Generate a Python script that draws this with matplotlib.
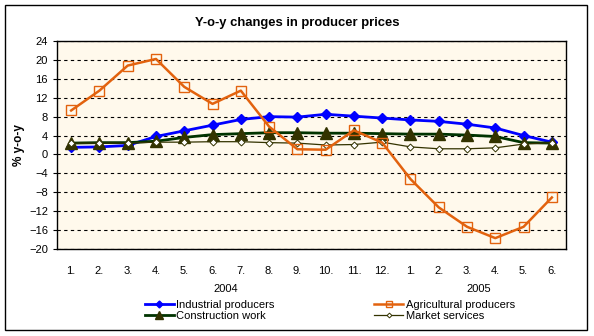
import matplotlib.pyplot as plt
from matplotlib.patches import Rectangle

# months (Jan 2004 .. Jun 2005)
months = ['1.', '2.', '3.', '4.', '5.', '6.', '7.', '8.', '9.', '10.', '11.', '12.',
          '1.', '2.', '3.', '4.', '5.', '6.']
industrial = [1.5, 1.6, 1.9, 3.8, 5.0, 6.2, 7.4, 8.0, 7.9, 8.5, 8.1, 7.7,
              7.3, 7.0, 6.4, 5.6, 4.0, 2.6]
agricultural = [9.3, 13.5, 18.8, 20.2, 14.3, 10.7, 13.5, 5.9, 1.1, 1.0, 5.1, 2.5,
                -5.2, -11.2, -15.3, -17.7, -15.3, -9.1]
construction = [2.4, 2.5, 2.5, 2.8, 3.6, 4.2, 4.4, 4.6, 4.6, 4.5, 4.5, 4.4,
                4.3, 4.3, 4.1, 3.8, 2.5, 2.4]
market = [2.4, 2.4, 2.4, 2.6, 2.6, 2.7, 2.7, 2.5, 2.4, 2.0, 2.1, 2.6,
          1.6, 1.2, 1.2, 1.4, 2.2, 2.5]
yticks = list(range(-20, 25, 4))

plt.rcParams['font.family'] = ['Liberation Sans', 'DejaVu Sans']

fig = plt.figure(figsize=(5.94, 3.36), dpi=100)
W, H = 594, 336

# outer chart frame
fig.patches.append(Rectangle((5 / W, 1 - 330 / H), 582 / W, 325 / H, transform=fig.transFigure,
                             fill=False, edgecolor='black', linewidth=1))

ax = fig.add_axes([57 / W, 1 - 249 / H, 509 / W, 208 / H])
ax.set_facecolor('#FFF9EC')
x = list(range(len(months)))

l_ind, = ax.plot(x, industrial, color='#0000FF', linewidth=2, marker='D', markersize=5,
                 markerfacecolor='#0000FF', markeredgecolor='#0000FF', zorder=3)
l_agr, = ax.plot(x, agricultural, color='#E2620E', linewidth=1.8, marker='s', markersize=7,
                 markerfacecolor='none', markeredgecolor='#E2620E', markeredgewidth=1, zorder=4)
l_con, = ax.plot(x, construction, color='#003300', linewidth=2, marker='^', markersize=9,
                 markerfacecolor='#333300', markeredgecolor='#333300', zorder=3)
l_mkt, = ax.plot(x, market, color='#333300', linewidth=0.9, marker='D', markersize=3.5,
                 markerfacecolor='white', markeredgecolor='#333300', markeredgewidth=0.7, zorder=3)

ax.set_xlim(-0.5, len(months) - 0.5)
ax.set_ylim(-20, 24)
ax.set_yticks(yticks)
ax.set_xticks(x)
ax.set_xticklabels(months, fontsize=8)
ax.tick_params(axis='x', length=0, pad=12)
ax.tick_params(axis='y', labelsize=8, length=3, direction='out')
ax.grid(axis='y', color='black', linestyle=(0, (3, 3)), linewidth=0.8)
for s in ax.spines.values():
    s.set_linewidth(1)

ax.set_ylabel('% y-o-y', fontsize=8.5, fontweight='bold', labelpad=3)
fig.text(297 / W, 1 - 23 / H, 'Y-o-y changes in producer prices', ha='center', va='center',
         fontsize=9.4, fontweight='bold')

fig.text(226 / W, 1 - 289 / H, '2004', ha='center', va='center', fontsize=8)
fig.text(479 / W, 1 - 289 / H, '2005', ha='center', va='center', fontsize=8)

fig.legend([l_ind, l_con, l_agr, l_mkt],
           ['Industrial producers', 'Construction work', 'Agricultural producers', 'Market services'],
           loc='upper left', bbox_to_anchor=(145 / W, 1 - 300 / H), ncol=2, frameon=False,
           fontsize=8, handlelength=2.6, handletextpad=0.2, columnspacing=9.0,
           labelspacing=0.1, borderpad=0, borderaxespad=0, markerscale=0.7)

fig.savefig('out.png', dpi=100)
